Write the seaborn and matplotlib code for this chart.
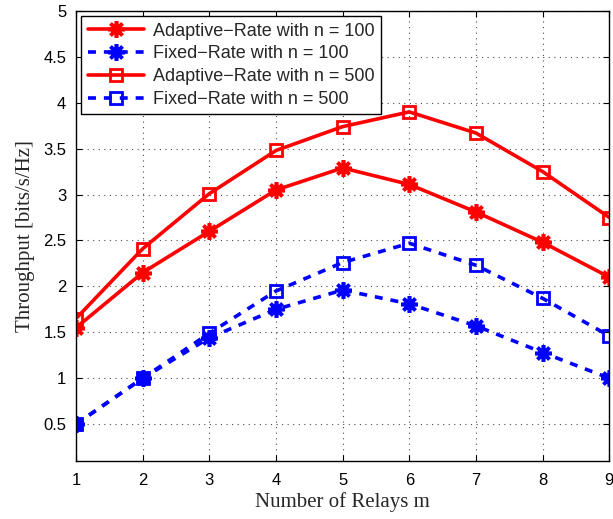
import matplotlib
matplotlib.use('Agg')
import matplotlib.pyplot as plt
import seaborn as sns

sns.set_style('white')
plt.rcParams['font.family'] = ['Liberation Sans', 'DejaVu Sans']

# data
relays = [1, 2, 3, 4, 5, 6, 7, 8, 9]
adaptive_100 = [1.55, 2.15, 2.60, 3.05, 3.29, 3.11, 2.81, 2.48, 2.10]
fixed_100 = [0.50, 1.00, 1.44, 1.75, 1.96, 1.81, 1.57, 1.28, 1.00]
adaptive_500 = [1.65, 2.41, 3.01, 3.48, 3.74, 3.90, 3.67, 3.25, 2.75]
fixed_500 = [0.50, 1.00, 1.49, 1.95, 2.26, 2.47, 2.23, 1.87, 1.46]

ASTER = (8, 2, 0)  # matlab-like asterisk
series = [
    ('Adaptive\u2212Rate with n = 100', adaptive_100, 'red', '-', ASTER, 'red'),
    ('Fixed\u2212Rate with n = 100', fixed_100, 'blue', '--', ASTER, 'blue'),
    ('Adaptive\u2212Rate with n = 500', adaptive_500, 'red', '-', 's', 'none'),
    ('Fixed\u2212Rate with n = 500', fixed_500, 'blue', '--', 's', 'none'),
]

fig = plt.figure(figsize=(6.13, 5.19), dpi=100)
ax = fig.add_axes([0.124, 0.112, 0.870, 0.867])

for label, vals, col, ls, mk, mfc in series:
    sns.lineplot(x=relays, y=vals, ax=ax, color=col, linewidth=2.6,
                 marker=mk, markersize=12 if mk == ASTER else 9,
                 markerfacecolor=mfc, markeredgecolor=col,
                 markeredgewidth=2.6 if mk == ASTER else 2.0, label=label)

for line, (label, vals, col, ls, mk, mfc) in zip(ax.get_lines(), series):
    if ls == '--':
        line.set_dashes((3.2, 2.6))

ax.set_xlim(1, 9)
ax.set_ylim(0.1, 5)
ax.set_xticks(relays)
ax.set_yticks([0.5, 1, 1.5, 2, 2.5, 3, 3.5, 4, 4.5, 5])
ax.set_yticklabels(['0.5', '1', '1.5', '2', '2.5', '3', '3.5', '4', '4.5', '5'])
ax.tick_params(direction='in', length=4, labelsize=12, colors='black', pad=7,
               top=True, right=True, bottom=True, left=True)
ax.tick_params(axis='x', pad=9)
ax.grid(True, linestyle=(0, (1, 4)), color='black', linewidth=0.8, alpha=0.7)
for sp in ax.spines.values():
    sp.set_color('black')
    sp.set_linewidth(1.0)
    sp.set_visible(True)

ax.set_xlabel('Number of Relays m', fontsize=15, family=['Liberation Serif', 'DejaVu Serif'], labelpad=3)
ax.set_ylabel('Throughput [bits/s/Hz]', fontsize=15, family=['Liberation Serif', 'DejaVu Serif'], labelpad=6)

handles, labels = ax.get_legend_handles_labels()
for h, (label, vals, col, ls, mk, mfc) in zip(handles, series):
    if ls == '--':
        h.set_dashes((2.2, 2.2))
leg = ax.legend(handles, labels, loc='upper left', fontsize=13, frameon=True,
                fancybox=False, edgecolor='black', framealpha=1,
                borderaxespad=0.3, handlelength=3.1, labelspacing=0.32,
                borderpad=0.35, handletextpad=0.5)
leg.get_frame().set_linewidth(1.0)

fig.savefig('out.png', dpi=100)
